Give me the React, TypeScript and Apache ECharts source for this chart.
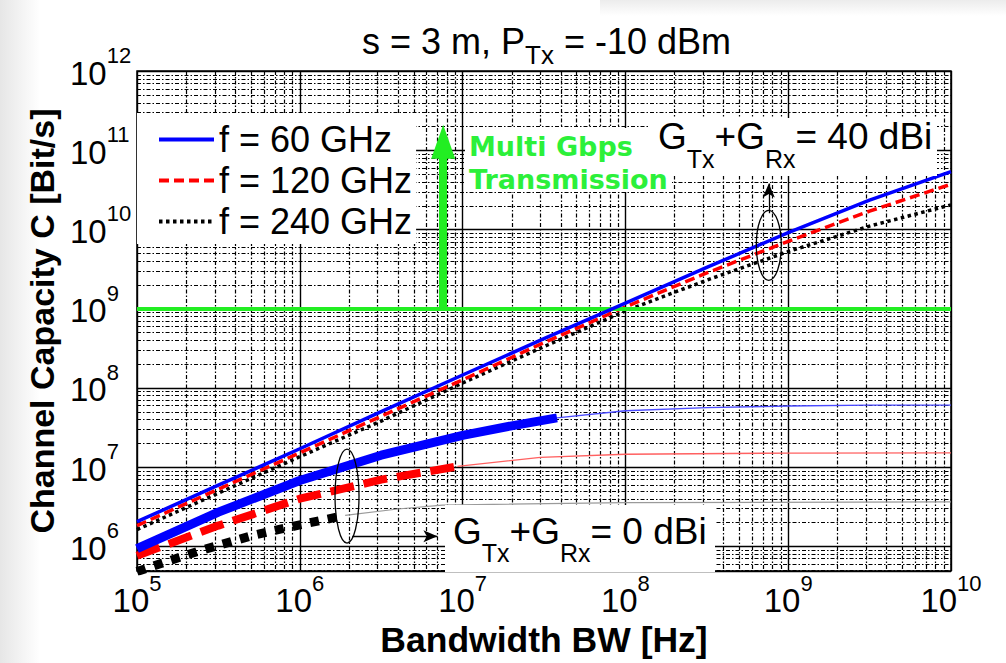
import React, { useEffect, useRef } from 'react';
import * as echarts from 'echarts';

// ---------- data ----------
// G_Tx + G_Rx = 40 dBi
const bw40 = [1e5, 3.16e5, 1e6, 3.16e6, 1e7, 3.16e7, 1e8, 3.16e8, 1e9, 3.16e9, 1e10];
const c60_40 = [2.04e6, 5.89e6, 1.7e7, 5.01e7, 1.45e8, 4.17e8, 1.175e9, 3.31e9, 9.12e9, 2.34e10, 5.37e10];
const c120_40 = [1.82e6, 5.25e6, 1.51e7, 4.37e7, 1.26e8, 3.72e8, 1.05e9, 2.82e9, 7.08e9, 1.7e10, 3.72e10];
const c240_40 = [1.62e6, 4.68e6, 1.35e7, 3.8e7, 1.15e8, 3.31e8, 9.33e8, 2.29e9, 5.25e9, 1.1e10, 2.04e10];

// G_Tx + G_Rx = 0 dBi (thick part, then thin continuation)
const bw60_0 = [1e5, 3.16e5, 1e6, 3.16e6, 1e7, 2e7, 3.8e7];
const c60_0 = [9.33e5, 2.69e6, 6.76e6, 1.41e7, 2.51e7, 3.31e7, 4.17e7];
const bw60_0t = [3.8e7, 1e8, 3.16e8, 1e9, 3.16e9, 1e10];
const c60_0t = [4.17e7, 5.13e7, 5.62e7, 5.89e7, 6.03e7, 6.03e7];

const bw120_0 = [1e5, 3.16e5, 1e6, 3.16e6, 9.3e6];
const c120_0 = [7.59e5, 1.82e6, 3.98e6, 6.92e6, 1.02e7];
const bw120_0t = [9.3e6, 3e7, 1e8, 1e9, 1e10];
const c120_0t = [1.02e7, 1.32e7, 1.45e7, 1.5e7, 1.51e7];

const bw240_0 = [1e5, 2.4e5, 5.2e5, 1e6, 1.9e6];
const c240_0 = [4.79e5, 8.71e5, 1.38e6, 1.86e6, 2.45e6];
const bw240_0t = [1.9e6, 4e6, 7.5e6, 1e8, 1e10];
const c240_0t = [2.45e6, 2.95e6, 3.31e6, 3.55e6, 3.63e6];

const legendNames = ['f = 60 GHz', 'f = 120 GHz', 'f = 240 GHz'];

// axes
const xMin = 1e5;
const xMax = 1e10;
const yMin = 4.85e5;
const yMax = 1e12;
const decadesX = [5, 6, 7, 8, 9];
const decadesY = [5, 6, 7, 8, 9, 10, 11];
const minorSteps = [2, 3, 4, 5, 6, 7, 8, 9];

// annotations (data space)
const gbpsThreshold = 1e9;
const gbpsArrow = [[7.6e6, 1e9], [7.6e6, 1.28e11]];
const ellipseCenters = [[7.6e8, 6.3e9], [1.95e6, 4.3e6]];
const arrow40 = [[7.6e8, 1.6e10], [7.6e8, 3.8e10]];
const arrow0 = [[2.1e6, 1.34e6], [7.0e6, 1.34e6]];

// ---------- helpers ----------
const FONT = "'Liberation Sans', Arial, Helvetica, sans-serif";
const GREEN = '#22ee22';

const pair = (xs: number[], ys: number[]) => xs.map((x, i) => [x, ys[i]]);

const powLabel = (v: number) => {
  const e = Math.log10(v);
  const r = Math.round(e);
  if (Math.abs(e - r) > 1e-6) return '';
  return `{b|10}{s|${r}}`;
};

const labelRich = {
  b: { fontSize: 33, lineHeight: 33, padding: [12, 0, 0, 0], verticalAlign: 'top', fontFamily: FONT, color: '#000' },
  s: { fontSize: 22, lineHeight: 22, verticalAlign: 'top', fontFamily: FONT, color: '#000' },
};

const gridData: number[][] = [];
decadesX.forEach((d) => minorSteps.forEach((k) => gridData.push([k * Math.pow(10, d), 1e8, 0])));
decadesY.forEach((d) =>
  minorSteps.forEach((k) => {
    const v = k * Math.pow(10, d);
    if (v > yMin) gridData.push([1e7, v, 1]);
  })
);

const ellipseRadii = [
  [12.5, 35],
  [12, 47],
];

function gainLabel(value: string, big: number, small: number, pad: number) {
  return {
    text: `{g|G}{s|Tx}{g|+G}{s|Rx}{g|${value}}`,
    rich: {
      g: { fontSize: big, lineHeight: big, verticalAlign: 'top', fontFamily: FONT, fill: '#000' },
      s: { fontSize: small, lineHeight: small, padding: [pad, 0, 0, 0], verticalAlign: 'top', fontFamily: FONT, fill: '#000' },
    },
    align: 'left',
    verticalAlign: 'top',
  };
}

const option: any = {
  animation: false,
  backgroundColor: '#ffffff',
  title: {
    text: '{a|s = 3 m, P}{s|Tx}{a| = -10 dBm}',
    left: 362,
    top: 23,
    padding: 0,
    textStyle: {
      fontWeight: 'normal',
      rich: {
        a: { fontSize: 36, lineHeight: 36, fontWeight: 'normal', verticalAlign: 'top', fontFamily: FONT, color: '#000' },
        s: { fontSize: 26, lineHeight: 26, fontWeight: 'normal', padding: [19, 0, 0, 0], verticalAlign: 'top', fontFamily: FONT, color: '#000' },
      },
    },
  },
  grid: {
    left: 137,
    right: 55,
    top: 71,
    bottom: 90,
    show: true,
    borderColor: '#000',
    borderWidth: 1.5,
    backgroundColor: 'transparent',
  },
  legend: {
    data: legendNames,
    orient: 'vertical',
    left: 137,
    top: 113,
    padding: [6, 4, 2, 20],
    itemGap: 0,
    itemWidth: 55,
    itemHeight: 14,
    backgroundColor: '#fff',
    selectedMode: false,
    itemStyle: { opacity: 0 },
    lineStyle: { width: 4 },
    textStyle: { fontSize: 36, fontFamily: FONT, color: '#000', lineHeight: 41 },
  },
  xAxis: {
    type: 'log',
    logBase: 10,
    min: xMin,
    max: xMax,
    axisLine: { show: false },
    axisTick: { show: false },
    splitLine: { show: true, lineStyle: { color: '#000', width: 1.4 } },
    axisLabel: { formatter: powLabel, rich: labelRich, margin: 1 },
    name: 'Bandwidth BW [Hz]',
    nameLocation: 'middle',
    nameGap: 50,
    nameTextStyle: { fontSize: 35.5, fontWeight: 'bold', fontFamily: FONT, color: '#000' },
  },
  yAxis: {
    type: 'log',
    logBase: 10,
    min: yMin,
    max: yMax,
    axisLine: { show: false },
    axisTick: { show: false },
    splitLine: { show: true, lineStyle: { color: '#000', width: 1.4 } },
    axisLabel: { formatter: powLabel, rich: labelRich, margin: 67, align: 'left', padding: [0, 0, 20, 0] },
    name: 'Channel Capacity C [Bit/s]',
    nameLocation: 'middle',
    nameGap: 72,
    nameTextStyle: { fontSize: 34, fontWeight: 'bold', fontFamily: FONT, color: '#000' },
  },
  graphic: [
    {
      type: 'rect',
      z: -10,
      shape: { x: 0, y: 0, width: 40, height: 663 },
      style: {
        fill: new echarts.graphic.LinearGradient(0, 0, 1, 0, [
          { offset: 0, color: '#e6e6e6' },
          { offset: 1, color: '#ffffff' },
        ]),
      },
      silent: true,
    },
    {
      type: 'rect',
      z: -10,
      shape: { x: 600, y: 0, width: 406, height: 16 },
      style: {
        fill: new echarts.graphic.LinearGradient(0, 0, 0, 1, [
          { offset: 0, color: '#ececec' },
          { offset: 1, color: '#ffffff' },
        ]),
      },
      silent: true,
    },
    {
      type: 'rect',
      z: 50,
      shape: { x: 465, y: 128, width: 207, height: 64 },
      style: { fill: '#fff' },
      silent: true,
    },
    {
      type: 'text',
      z: 51,
      x: 469,
      y: 130,
      style: {
        text: 'Multi Gbps\nTransmission',
        fontFamily: "'DejaVu Sans', Verdana, sans-serif",
        fontWeight: 'bold',
        fontSize: 27,
        lineHeight: 33,
        fill: '#2cf03a',
        align: 'left',
        verticalAlign: 'top',
      },
      silent: true,
    },
    {
      type: 'rect',
      z: 50,
      shape: { x: 650, y: 118, width: 287, height: 58 },
      style: { fill: '#fff' },
      silent: true,
    },
    {
      type: 'text',
      z: 51,
      x: 658,
      y: 118,
      style: gainLabel('= 40 dBi', 37, 25, 28),
      silent: true,
    },
    {
      type: 'rect',
      z: 50,
      shape: { x: 445, y: 505, width: 270, height: 67 },
      style: { fill: '#fff' },
      silent: true,
    },
    {
      type: 'text',
      z: 51,
      x: 453,
      y: 513,
      style: gainLabel('= 0 dBi', 37, 25, 27),
      silent: true,
    },
  ],
  series: [
    {
      type: 'custom',
      name: 'minor grid',
      z: 1,
      silent: true,
      clip: true,
      data: gridData,
      encode: { x: 0, y: 1 },
      renderItem: (params: any, api: any) => {
        const cs = params.coordSys;
        const p = api.coord([api.value(0), api.value(1)]);
        const vertical = api.value(2) === 0;
        const px = Math.round(p[0]) + 0.5;
        const py = Math.round(p[1]) + 0.5;
        const shape = vertical
          ? { x1: px, y1: cs.y, x2: px, y2: cs.y + cs.height }
          : { x1: cs.x, y1: py, x2: cs.x + cs.width, y2: py };
        return {
          type: 'line',
          shape,
          style: { stroke: '#000', lineWidth: 1.2, lineDash: [4, 2, 1.5, 2] },
          silent: true,
        };
      },
    },
    {
      type: 'line',
      name: legendNames[0],
      data: pair(bw40, c60_40),
      symbol: 'none',
      z: 5,
      lineStyle: { color: '#0000ff', width: 3.5, type: 'solid' },
      itemStyle: { color: '#0000ff' },
      markLine: {
        silent: true,
        animation: false,
        symbol: ['none', 'none'],
        label: { show: false },
        data: [
          { yAxis: gbpsThreshold, lineStyle: { color: GREEN, width: 4, type: 'solid' } },
          [
            { coord: gbpsArrow[0], symbol: 'none', lineStyle: { color: GREEN, width: 8, type: 'solid' } },
            { coord: gbpsArrow[1], symbol: 'triangle', symbolSize: [24, 34] },
          ],
          [
            { coord: arrow40[0], symbol: 'none', lineStyle: { color: '#000', width: 1.3, type: 'solid' } },
            { coord: arrow40[1], symbol: 'arrow', symbolSize: [9, 14] },
          ],
          [
            { coord: arrow0[0], symbol: 'none', lineStyle: { color: '#000', width: 1.3, type: 'solid' } },
            { coord: arrow0[1], symbol: 'arrow', symbolSize: [9, 14] },
          ],
        ],
      },
    },
    {
      type: 'line',
      name: legendNames[1],
      data: pair(bw40, c120_40),
      symbol: 'none',
      z: 4,
      lineStyle: { color: '#ff0000', width: 3.5, type: [10, 5] },
      itemStyle: { color: '#ff0000' },
    },
    {
      type: 'line',
      name: legendNames[2],
      data: pair(bw40, c240_40),
      symbol: 'none',
      z: 3,
      lineStyle: { color: '#000000', width: 3.5, type: [3.5, 3.5] },
      itemStyle: { color: '#000000' },
    },
    {
      type: 'line',
      name: '60 GHz 0 dBi',
      data: pair(bw60_0, c60_0),
      symbol: 'none',
      z: 5,
      lineStyle: { color: '#0000ff', width: 9, type: 'solid', cap: 'butt' },
    },
    {
      type: 'line',
      name: '60 GHz 0 dBi thin',
      data: pair(bw60_0t, c60_0t),
      symbol: 'none',
      z: 5,
      lineStyle: { color: '#4a4aff', width: 1.3, type: 'solid' },
    },
    {
      type: 'line',
      name: '120 GHz 0 dBi',
      data: pair(bw120_0, c120_0),
      symbol: 'none',
      z: 4,
      lineStyle: { color: '#ff0000', width: 8, type: [24, 10], cap: 'butt' },
    },
    {
      type: 'line',
      name: '120 GHz 0 dBi thin',
      data: pair(bw120_0t, c120_0t),
      symbol: 'none',
      z: 4,
      lineStyle: { color: '#ff6060', width: 1.3, type: 'solid' },
    },
    {
      type: 'line',
      name: '240 GHz 0 dBi',
      data: pair(bw240_0, c240_0),
      symbol: 'none',
      z: 3,
      lineStyle: { color: '#000000', width: 9, type: [9, 9], cap: 'butt' },
    },
    {
      type: 'line',
      name: '240 GHz 0 dBi thin',
      data: pair(bw240_0t, c240_0t),
      symbol: 'none',
      z: 3,
      lineStyle: { color: '#9a9a9a', width: 1.2, type: 'solid' },
    },
    {
      type: 'custom',
      name: 'ellipses',
      z: 6,
      silent: true,
      data: ellipseCenters,
      renderItem: (params: any, api: any) => {
        const p = api.coord([api.value(0), api.value(1)]);
        const r = ellipseRadii[params.dataIndex];
        return {
          type: 'ellipse',
          shape: { cx: p[0], cy: p[1], rx: r[0], ry: r[1] },
          style: { fill: 'none', stroke: '#000', lineWidth: 1.3 },
          silent: true,
        };
      },
    },
  ],
};

export default function App() {
  const ref = useRef<HTMLDivElement>(null);
  useEffect(() => {
    if (!ref.current) return;
    const chart = echarts.init(ref.current, null, { renderer: 'svg' });
    chart.setOption(option);
    return () => chart.dispose();
  }, []);
  return (
    <div
      ref={ref}
      style={{ position: 'absolute', left: 0, top: 0, width: 1006, height: 663, background: '#fff' }}
    />
  );
}
